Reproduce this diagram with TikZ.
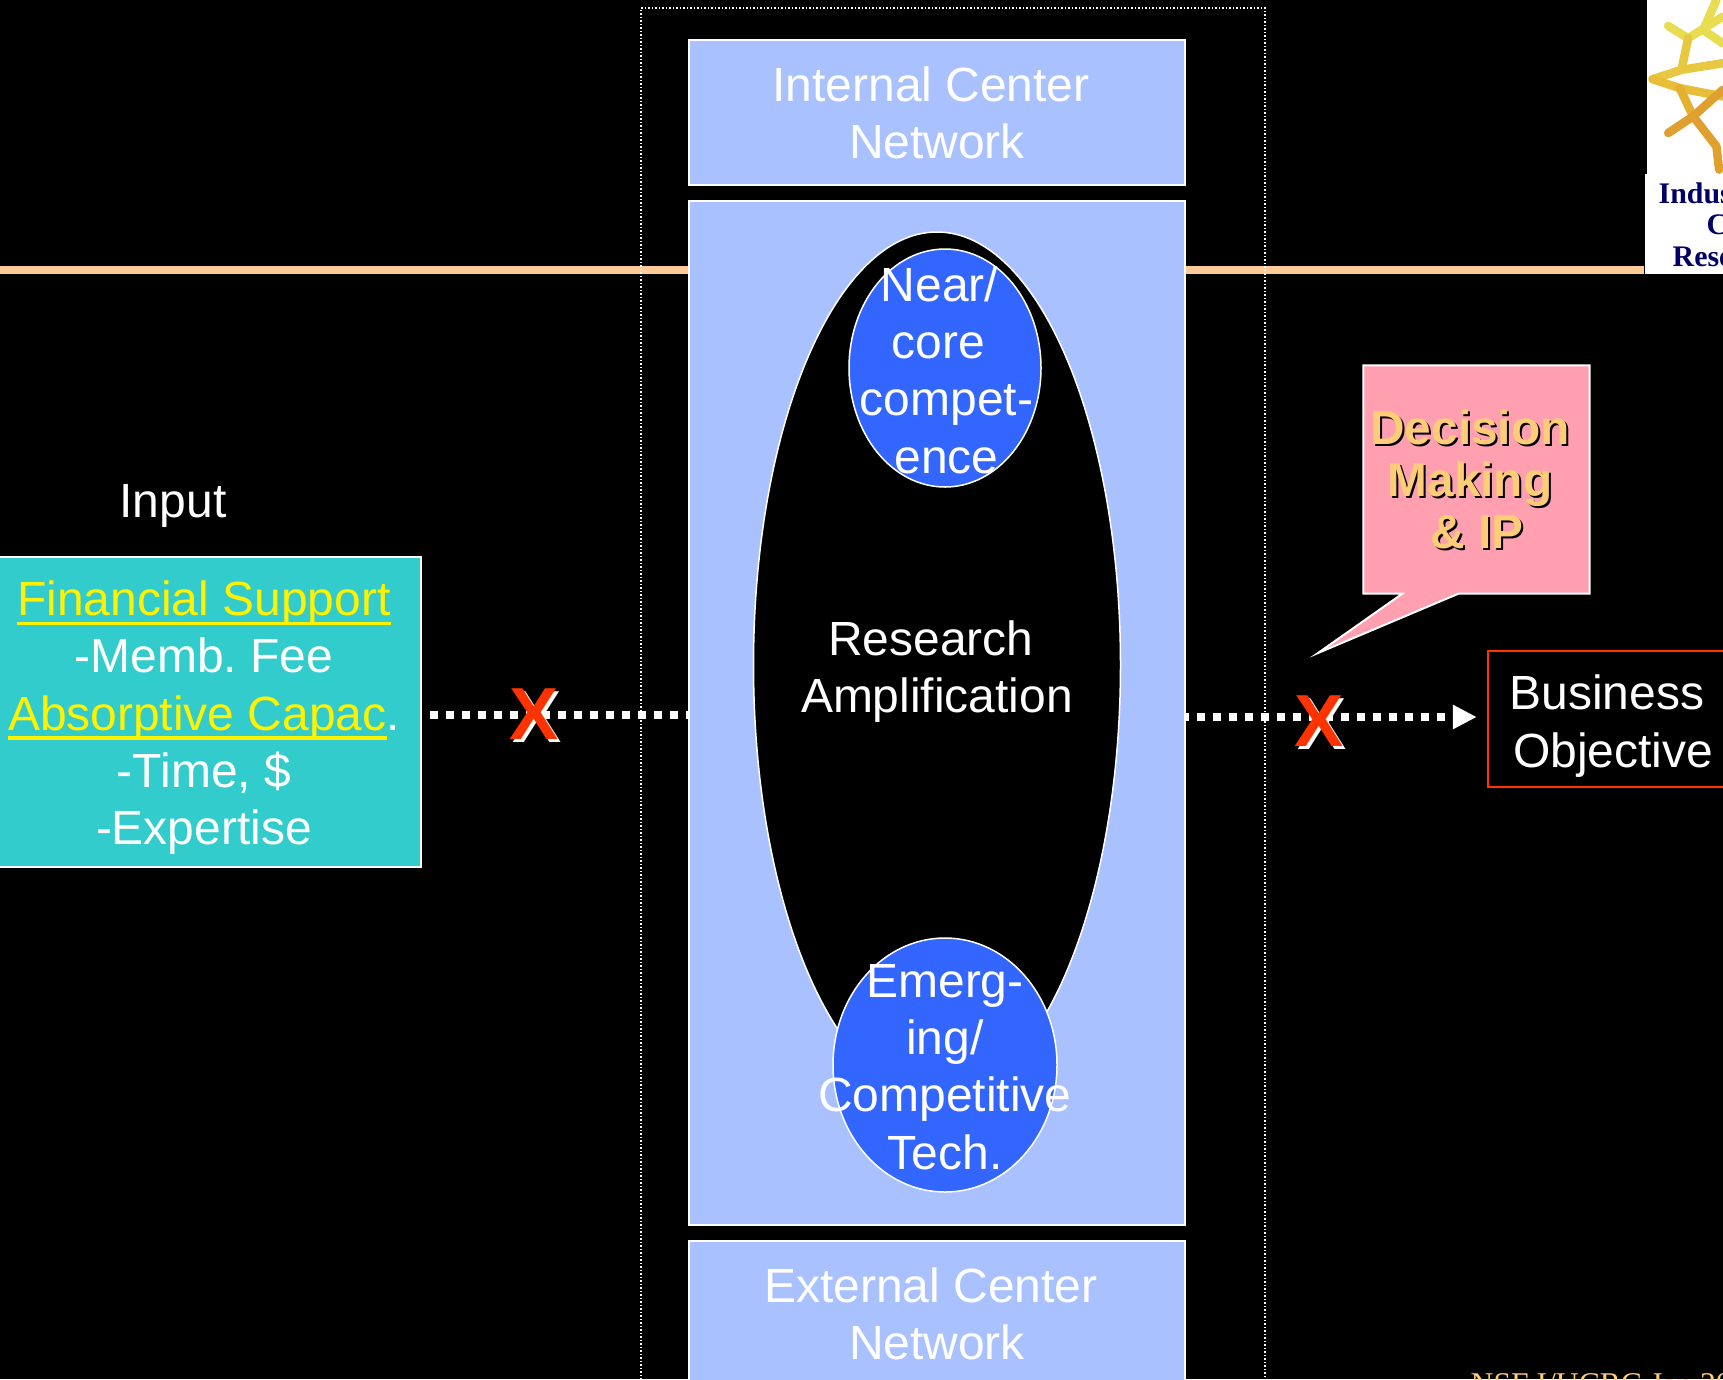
\documentclass[tikz,border=0pt]{standalone}
\usepackage{fontspec}
\setmainfont{Liberation Sans}
\newfontfamily\logofont{Liberation Serif}
\usetikzlibrary{arrows.meta,shapes,positioning,calc}
\definecolor{panelblue}{HTML}{A9C2FF}
\definecolor{blobblue}{HTML}{3366FF}
\definecolor{teal}{HTML}{33CCCC}
\definecolor{rosepink}{HTML}{FF9FB0}
\definecolor{gold}{HTML}{FFCC77}
\definecolor{peach}{HTML}{FFCC99}
\definecolor{redx}{HTML}{FF3300}
\definecolor{navy}{HTML}{000066}
\newcommand{\slidefont}{\frenchspacing\fontsize{13.65}{16.3}\selectfont}
\newcommand{\linkline}[1]{\setbox0=\hbox{#1}{\color{yellow}\rlap{\rule[-.095cm]{\wd0}{.035cm}}#1}}
\newcommand{\pad}[1]{\rule{#1}{0pt}}

\begin{document}
\begin{tikzpicture}
[font=\slidefont,text=white,
    panel/.style={draw=white,fill=panelblue,line width=.02cm,shape=rectangle,inner sep=0,align=center,minimum width=4.96cm},
    blob/.style={draw=white,line width=.015cm,shape=ellipse,inner sep=0},
    lab/.style={align=center,inner sep=0},
    flow/.style={white,line width=.08cm,dash pattern=on .08cm off .08cm},
    spoke/.style={line width=.085cm,line cap=round,line join=round},
    cross/.style={font=\bfseries\fontsize{21}{21}\selectfont,inner sep=0},
    say/.style={font=\bfseries\fontsize{13.6}{14.8}\selectfont,align=center,inner sep=0}]
\useasboundingbox[fill=black] (0,0) rectangle (17.23,-13.79);
%% level lines
\coordinate (lvl) at (0,-7.15);
\coordinate (lvr) at (0,-7.17);
\coordinate (rulestart) at (0,-2.70);
\coordinate (tip) at (13.18,-6.53);
%% logo
\node (logotop) [fill=white,inner sep=0,minimum width=.76cm,minimum height=1.74cm] at (16.85,-.87) {};
\node (logobot) [fill=white,inner sep=0,minimum width=.78cm,minimum height=1.0cm] at (16.84,-2.24) {};
\begin{scope}[shift={(16,0)},x=.00333cm,y=-.00333cm]
\draw[spoke,color={rgb,255:red,232;green,220;blue,80}] (205,78) -- (265,115) -- (369,50);
\draw[spoke,color={rgb,255:red,232;green,220;blue,80}] (350,0) -- (310,90) -- (369,130);
\draw[spoke,color={rgb,255:red,232;green,200;blue,64}] (265,115) -- (245,210);
\draw[spoke,color={rgb,255:red,232;green,200;blue,64}] (158,238) -- (245,210) -- (369,190);
\draw[spoke,color={rgb,255:red,232;green,190;blue,56}] (158,238) -- (240,265) -- (369,290);
\draw[spoke,color={rgb,255:red,228;green,176;blue,48}] (240,265) -- (280,350);
\draw[spoke,color={rgb,255:red,224;green,160;blue,48}] (205,400) -- (280,350) -- (369,270);
\draw[spoke,color={rgb,255:red,224;green,160;blue,48}] (280,350) -- (350,440) -- (358,510);
\end{scope}
\node (logoa) [anchor=base west,inner sep=0,text=navy,font=\logofont\bfseries\fontsize{8.5}{8.5}\selectfont] at (16.58,-2.03) {Indus};
\node (logob) [anchor=base west,inner sep=0,text=navy,font=\logofont\bfseries\fontsize{8.5}{8.5}\selectfont] at (17.06,-2.34) {C};
\node (logoc) [anchor=base west,inner sep=0,text=navy,font=\logofont\bfseries\fontsize{8.5}{8.5}\selectfont] at (16.72,-2.66) {Rese};
%% rule behind everything
\draw[peach,line width=.08cm] (rulestart) -- (logobot.west|-rulestart);
%% frame
\node (frame) [draw=white,line width=.015cm,dash pattern=on .015cm off .02cm,inner sep=0,minimum width=6.24cm,minimum height=14cm] at (9.53,-7.08) {};
%% center column
\node (intnet) [panel,minimum height=1.45cm] at (9.37,-1.125) {Internal Center\pad{.12cm}\\Network};
\node (ampbox) [panel,minimum height=10.24cm] at (9.37,-7.13) {};
\node (extnet) [panel,minimum height=1.46cm] at (9.37,-13.14) {External Center\pad{.12cm}\\Network};
\node (amp) [blob,fill=black,minimum width=3.67cm,minimum height=8.66cm] at (9.37,-6.65) {};
\node (amplab) [lab] at (9.37,-6.715) {Research\pad{.12cm}\\Amplification};
\node (near) [blob,fill=blobblue,minimum width=1.92cm,minimum height=2.38cm] at (9.45,-3.68) {};
\node (nearlab) [lab] at (9.425,-3.7) {Near/\pad{.06cm}\\core\pad{.08cm}\\\pad{.08cm}compet-\\\pad{.08cm}ence};
\node (emerg) [blob,fill=blobblue,minimum width=2.24cm,minimum height=2.54cm] at (9.45,-10.65) {};
\node (emerglab) [lab] at (9.45,-10.67) {Emerg-\\ing/\\Competitive\\Tech.};
%% left side
\node (inp) [lab] at (1.73,-5.055) {Input};
\node (fin) [panel,fill=teal,minimum width=4.34cm,minimum height=3.1cm] at (2.04,-7.115) {};
\node (finlab) [lab] at (2.04,-7.177) {\linkline{Financial Support}\\-Memb. Fee\\\linkline{Absorptive Capac}.\\-Time, \$\\-Expertise};
%% right side
\node (biz) [draw=redx,line width=.025cm,inner sep=0,minimum width=2.6cm,minimum height=1.36cm] at (16.18,-7.19) {};
\node (bizlab) [lab] at (16.13,-7.26) {Business\pad{.12cm}\\Objective};
\node (dec) [inner sep=0,minimum width=2.25cm,minimum height=2.27cm] at (14.765,-4.795) {};
\draw[draw=white,fill=rosepink,line width=.02cm] (dec.north west) -- (dec.north east) -- (dec.south east) -- ($(dec.south west)+(.95,0)$) -- (tip) -- ($(dec.south west)+(.39,0)$) -- (dec.south west) -- cycle;
\node (decback) [say,text=black] at (14.79,-4.81) {Decision\pad{.14cm}\\Making\pad{.14cm}\\\& IP};
\node (decfront) [say,text=gold] at (14.77,-4.79) {Decision\pad{.14cm}\\Making\pad{.14cm}\\\& IP};
%% flows
\draw[flow,shorten <=.08cm] (fin.east|-lvl) -- (ampbox.west|-lvl);
\draw[flow,dash phase=.05cm,shorten >=.1cm,-{Triangle[length=.24cm,width=.23cm]}] (ampbox.east|-lvr) -- (biz.west|-lvr);
%% crosses
\node (xaback) [cross,text=white] at (5.37,-7.17) {X};
\node (xa) [cross,text=redx] at (5.34,-7.14) {X};
\node (xbback) [cross,text=white] at (13.22,-7.24) {X};
\node (xb) [cross,text=redx] at (13.19,-7.21) {X};
%% footer
\node (foot) [anchor=base west,inner sep=0,text=gold,font=\logofont\fontsize{9}{9}\selectfont] at (14.70,-13.94) {NSF I/UCRC Jan 20};
\end{tikzpicture}
\end{document}
